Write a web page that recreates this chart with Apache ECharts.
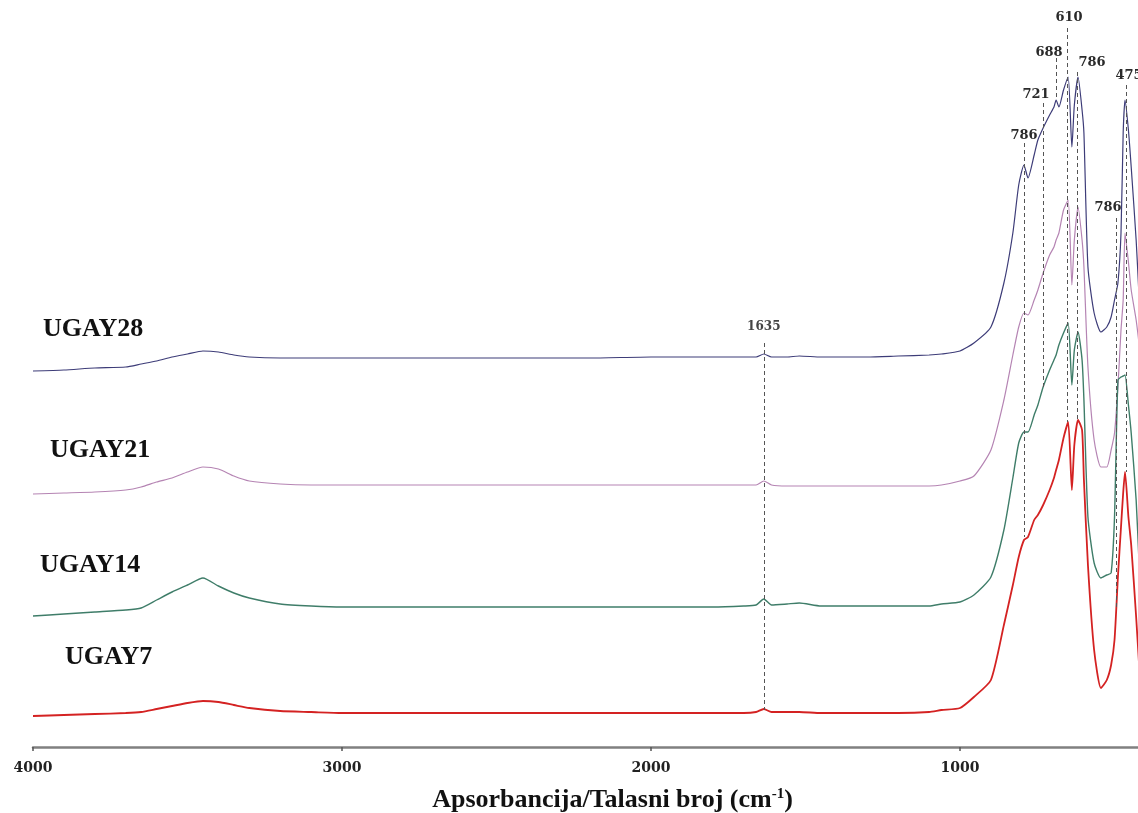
<!DOCTYPE html>
<html>
<head>
<meta charset="utf-8">
<script src="https://cdn.jsdelivr.net/npm/echarts@6/dist/echarts.min.js"></script>
<style>
html,body{margin:0;padding:0;background:#fff;}
#c{width:1138px;height:813px;}
</style>
</head>
<body>
<div id="c"></div>
<script>
// Wavenumbers (cm-1)
const wavenumbers = [4000,3900,3800,3700,3650,3600,3550,3500,3450,3400,3350,3300,3200,3100,3000,2800,2600,2400,2200,2000,1800,1700,1660,1635,1610,1560,1520,1450,1300,1200,1100,1060,1000,955,900,858,829,810,793,780,760,748,731,710,696,689,680,665,650,638,630,618,605,599,586,566,544,525,511,500,489,479,472,466,455,446,430,420];

// Absorbance (arbitrary units, spectra stacked as in the figure)
const ugay28 = [75.2,75.4,75.8,76.0,76.6,77.2,78.0,78.6,79.2,79.0,
  78.4,78.0,77.8,77.8,77.8,77.8,77.8,77.8,77.8,78.0,
  78.0,78.0,78.0,78.6,78.0,78.0,78.2,78.0,78.0,78.2,
  78.4,78.6,79.2,80.8,84.0,92.8,102.8,112.4,116.4,113.8,
  118.4,121.4,123.8,126.4,128.0,129.4,128.0,131.4,134.0,120.0,
  128.4,134.0,127.4,122.8,96.0,86.8,83.0,84.0,86.0,89.4,
  92.8,102.8,122.8,129.4,123.4,116.0,101.4,89.4];
const ugay21 = [50.6,50.8,51.0,51.4,52.0,53.0,53.8,55.0,56.0,55.6,
  54.2,53.2,52.6,52.4,52.4,52.4,52.4,52.4,52.4,52.4,
  52.4,52.4,52.4,53.2,52.4,52.2,52.2,52.2,52.2,52.2,
  52.2,52.4,53.2,54.2,59.4,69.4,78.4,84.0,86.8,86.4,
  89.4,91.4,94.8,98.4,100.0,101.4,102.8,107.4,109.4,92.4,
  101.4,108.0,101.4,96.0,76.0,61.4,56.0,56.0,59.4,62.8,
  72.0,83.4,89.4,102.8,97.0,91.4,85.4,80.4];
const ugay14 = [26.2,26.6,27.0,27.4,27.8,29.4,31.0,32.4,33.8,32.2,
  30.8,29.8,28.6,28.2,28.0,28.0,28.0,28.0,28.0,28.0,
  28.0,28.2,28.4,29.6,28.4,28.6,28.8,28.2,28.2,28.2,
  28.2,28.6,29.0,30.4,34.0,43.4,53.8,60.8,63.0,63.0,
  66.4,68.4,72.0,75.4,77.4,78.4,80.4,82.8,84.8,72.4,
  79.4,83.0,77.4,69.4,46.0,36.8,33.8,34.4,34.8,46.0,
  73.4,74.0,74.2,74.4,68.4,62.8,49.4,36.0];
const ugay7 = [6.2,6.4,6.6,6.8,7.0,7.6,8.2,8.8,9.2,9.0,
  8.4,7.8,7.2,7.0,6.8,6.8,6.8,6.8,6.8,6.8,
  6.8,6.8,7.0,7.6,7.0,7.0,7.0,6.8,6.8,6.8,
  7.0,7.4,7.8,10.0,13.4,24.4,32.4,38.0,41.4,42.0,
  45.4,46.4,48.4,51.4,53.8,55.4,57.4,61.8,65.0,51.4,
  60.4,65.4,63.4,53.4,36.4,19.4,11.8,13.4,16.4,21.4,
  34.0,44.0,50.8,55.0,46.0,40.4,26.0,16.0];

const sampleNames = ['UGAY28','UGAY21','UGAY14','UGAY7'];
const xTicks = [4000,3000,2000,1000];

// Peak annotations
const peakTexts = ['1635','786','721','688','610','786','786','475'];
const peakLineWn = [1635,793,731,689,652,620,495,463];
const peakLineTop = [80.8,120.8,128.8,137.8,143.8,135.0,105.8,132.4];
const peakLineBottom = [7.4,42.0,72.0,129.4,65.0,65.4,28.0,55.0];
const peakLabelWn = [1635,793,754,712,647,573,521,453];
const peakLabelVal = [84.0,122.2,130.4,138.8,145.8,136.8,107.8,134.2];

const colors = ['#3d3c78','#b584b3','#3f7d69','#d42222'];
const widths = [1.2,1.2,1.4,1.8];
const seriesVals = [ugay28, ugay21, ugay14, ugay7];

function pairs(vals){ return wavenumbers.map((w,i)=>[w, vals[i]]); }

const series = seriesVals.map((vals, k) => ({
  name: sampleNames[k],
  type: 'line',
  data: pairs(vals),
  showSymbol: false,
  symbol: 'none',
  smooth: 0.2,
  lineStyle: {color: colors[k], width: widths[k]},
  itemStyle: {color: colors[k]},
  clip: true,
  z: 3
}));

series.push({
  name: 'annotations',
  type: 'line',
  data: [],
  symbol: 'none',
  z: 2,
  markLine: {
    silent: true,
    symbol: ['none','none'],
    animation: false,
    label: {show: false},
    lineStyle: {type: [4,3], color: '#555', width: 1},
    data: peakLineWn.map((w,i)=>[{coord:[w, peakLineTop[i]]},{coord:[w, peakLineBottom[i]]}])
  },
  markPoint: {
    silent: true,
    symbol: 'circle',
    symbolSize: 1,
    itemStyle: {color: 'rgba(0,0,0,0)'},
    animation: false,
    label: {
      show: true, position: 'inside', formatter: '{b}',
      fontFamily: 'DejaVu Serif', fontWeight: 'bold', fontSize: 13, color: '#2a2a2a'
    },
    data: peakTexts.map((t,i)=>({name: t, coord:[peakLabelWn[i], peakLabelVal[i]],
      label: i===0 ? {fontSize: 12, color:'#444'} : undefined}))
  }
});

const labelPos = [[43,329],[50,450],[40,565],[65,657]];
const graphic = sampleNames.map((n,i)=>({
  type: 'text',
  x: labelPos[i][0], y: labelPos[i][1],
  style: {text: n, font: 'bold 26px "Liberation Serif"', fill: '#111', verticalAlign: 'middle', align: 'left'},
  silent: true
}));

const chart = echarts.init(document.getElementById('c'), null, {renderer: 'canvas'});
chart.setOption({
  animation: false,
  backgroundColor: '#fff',
  grid: {left: 33, right: 0, top: 0, bottom: 66, containLabel: false, outerBoundsMode: 'none'},
  xAxis: {
    type: 'value', inverse: true, min: 424, max: 4000,
    name: '{b|Apsorbancija/Talasni broj (cm}{s|-1}{b|)}',
    nameLocation: 'middle', nameGap: 38,
    nameTextStyle: {
      padding: [0,0,0,54],
      rich: {
        b: {fontFamily: 'Liberation Serif', fontWeight: 'bold', fontSize: 26, color: '#111', lineHeight: 30},
        s: {fontFamily: 'Liberation Serif', fontWeight: 'bold', fontSize: 15, color: '#111', lineHeight: 30, padding: [0,0,12,0]}
      }
    },
    axisLine: {show: true, onZero: false, lineStyle: {color: '#808080', width: 2.5}},
    axisTick: {show: true, customValues: xTicks, length: 4, lineStyle: {color: '#555', width: 1.5}},
    axisLabel: {customValues: xTicks, margin: 14, formatter: v => String(v),
      fontFamily: 'DejaVu Serif', fontWeight: 'bold', fontSize: 14, color: '#222'},
    splitLine: {show: false}
  },
  yAxis: {
    type: 'value', min: 0, max: 149.4, show: false
  },
  graphic: graphic,
  series: series
});
</script>
</body>
</html>
